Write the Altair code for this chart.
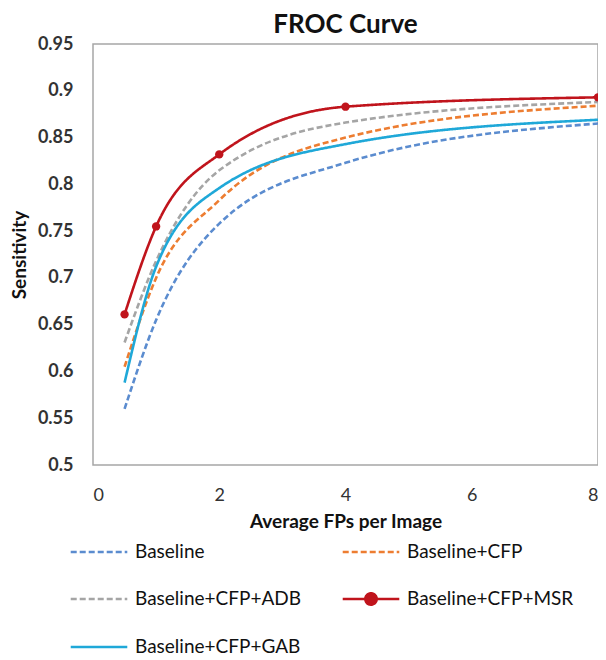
import altair as alt
import pandas as pd

fps = [0.5, 1, 2, 4, 8]
series_names = ["Baseline", "Baseline+CFP", "Baseline+CFP+ADB", "Baseline+CFP+MSR", "Baseline+CFP+GAB"]
baseline = [0.560, 0.655, 0.758, 0.823, 0.865]
cfp = [0.605, 0.700, 0.783, 0.850, 0.884]
adb = [0.631, 0.718, 0.815, 0.866, 0.888]
msr = [0.661, 0.755, 0.832, 0.883, 0.893]
gab = [0.588, 0.712, 0.796, 0.843, 0.869]

colors = ["#5b8ccf", "#ed7d31", "#a5a5a5", "#c0141c", "#1fa8d8"]
dashes = [[6, 3], [6, 3], [6, 3], [1, 0], [1, 0]]

values = [baseline, cfp, adb, msr, gab]
rows = []
for name, vals in zip(series_names, values):
    for x, y in zip(fps, vals):
        rows.append({"fps": x, "sens": y, "series": name})
df = pd.DataFrame(rows)

FONT = "Lato"
msr_path = "M-1,0H1M0.2,0A0.2,0.2,0,1,1,-0.2,0A0.2,0.2,0,1,1,0.2,0Z"
shape_expr = "datum.value === 'Baseline+CFP+MSR' ? '" + msr_path + "' : 'stroke'"
fill_expr = "datum.value === 'Baseline+CFP+MSR' ? '#c0141c' : 'transparent'"

xenc = alt.X("fps:Q", scale=alt.Scale(domain=[0, 8], nice=False),
             axis=alt.Axis(values=[0, 2, 4, 6, 8], title="Average FPs per Image", format="d",
                           labelPadding=21, titlePadding=8, labelFontSize=18,
                           labelColor="#333333", labelFontWeight="normal"))
yenc = alt.Y("sens:Q", scale=alt.Scale(domain=[0.5, 0.95], nice=False, zero=False),
             axis=alt.Axis(values=[0.5, 0.55, 0.6, 0.65, 0.7, 0.75, 0.8, 0.85, 0.9, 0.95],
                           format=".2~f", title="Sensitivity", labelPadding=20, titlePadding=8,
                           labelFontSize=18, labelFontWeight="bold", labelColor="#333333"))

lines = alt.Chart(df).mark_line(interpolate="monotone", strokeWidth=2.6).encode(
    x=xenc,
    y=yenc,
    color=alt.Color("series:N", scale=alt.Scale(domain=series_names, range=colors),
                    legend=alt.Legend(
                        orient="none", legendX=-24, legendY=478, columns=2, title=None,
                        direction="horizontal",
                        symbolType=alt.ExprRef(expr=shape_expr),
                        symbolFillColor=alt.ExprRef(expr=fill_expr),
                        symbolSize=3200, symbolStrokeWidth=2.6,
                        labelFontSize=19, labelFont=FONT, labelColor="#111111",
                        labelOffset=6, columnPadding=36, rowPadding=7, labelLimit=300)),
    strokeDash=alt.StrokeDash("series:N", scale=alt.Scale(domain=series_names, range=dashes),
                              legend=None),
)

points = alt.Chart(df).transform_filter(alt.datum.series == "Baseline+CFP+MSR").mark_point(
    filled=True, size=70, color="#c0141c", opacity=1
).encode(x="fps:Q", y="sens:Q")

chart = alt.layer(lines, points).properties(
    width=505, height=421,
    title=alt.TitleParams("FROC Curve", fontSize=26, font=FONT, fontWeight="bold",
                          color="#111111", offset=-3),
    autosize=alt.AutoSizeParams(type="none"),
    padding={"left": 85, "top": 36, "right": 0, "bottom": 195},
).configure_view(
    stroke="#a6a6a6", strokeWidth=1.5
).configure_axis(
    grid=False, ticks=False, domain=False, labelFont=FONT, titleFont=FONT,
    titleFontSize=19, titleFontWeight="bold", titleColor="#111111"
)

chart.save("out.html", embed_options={"renderer": "svg", "actions": False})
